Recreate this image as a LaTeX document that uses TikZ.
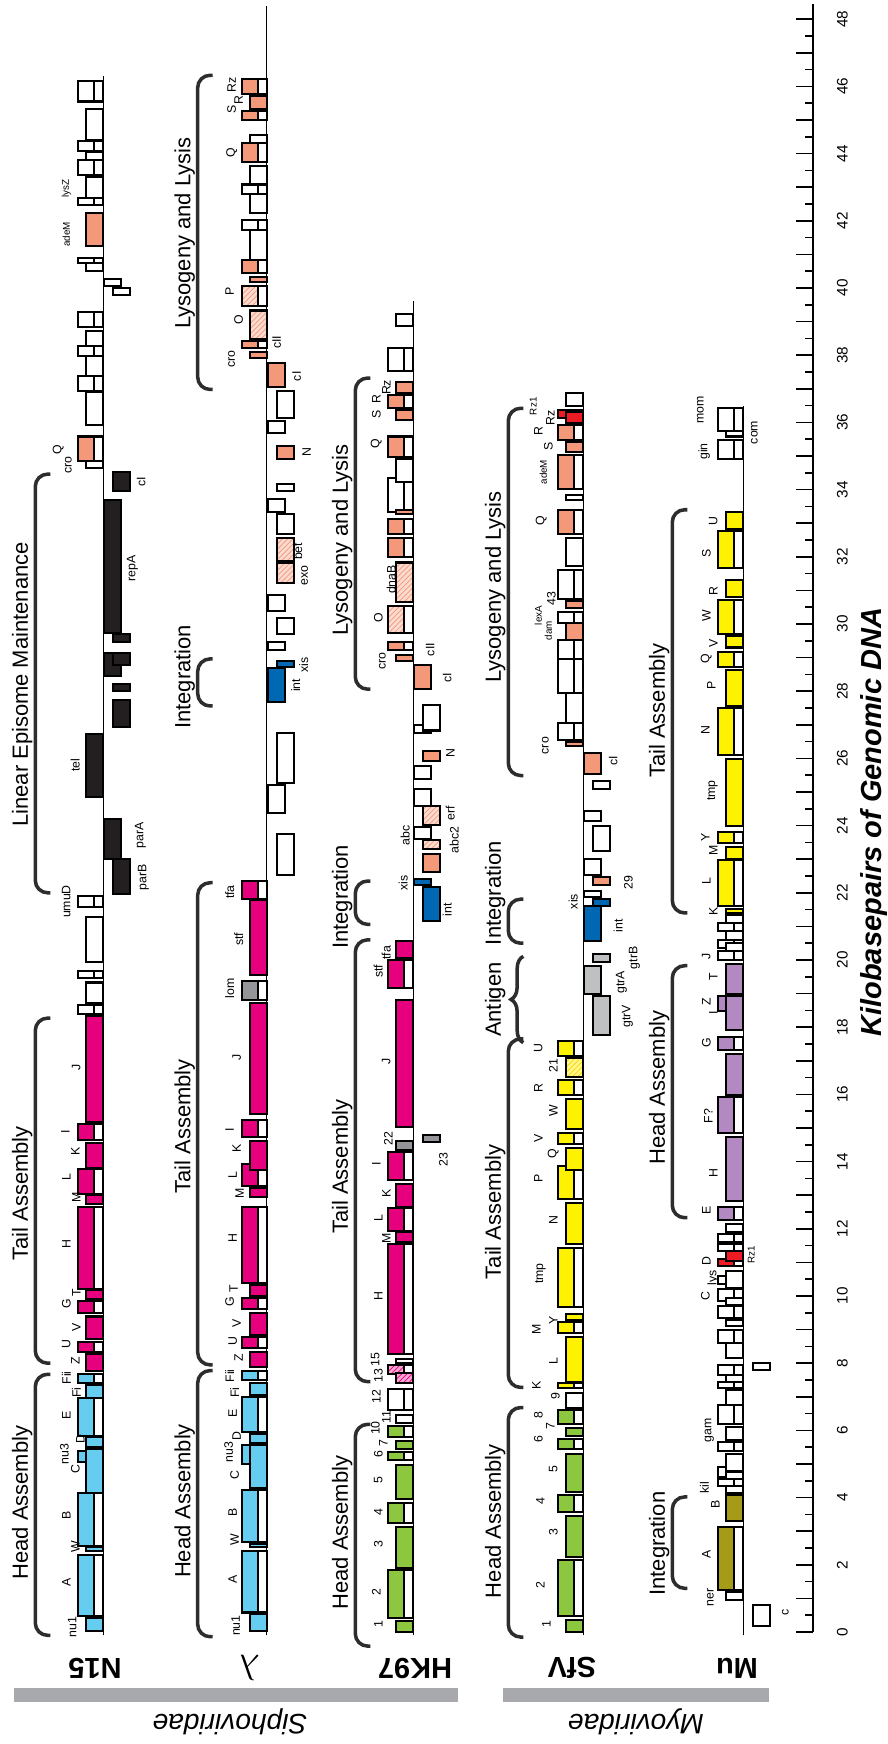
\documentclass[tikz,border=0pt]{standalone}
\usepackage{fontspec}
\setmainfont{Liberation Sans}
\usetikzlibrary{patterns,decorations.pathreplacing}

\definecolor{headblue}{RGB}{102,204,240}
\definecolor{tailpink}{RGB}{230,0,126}
\definecolor{headgreen}{RGB}{141,198,63}
\definecolor{tailyellow}{RGB}{255,242,0}
\definecolor{headpurple}{RGB}{178,137,192}
\definecolor{intolive}{RGB}{166,155,25}
\definecolor{lyso}{RGB}{244,152,122}
\definecolor{episome}{RGB}{35,31,32}
\definecolor{intblue}{RGB}{0,103,178}
\definecolor{tailgray}{RGB}{147,149,152}
\definecolor{antgray}{RGB}{190,192,194}
\definecolor{lysred}{RGB}{237,28,36}
\definecolor{famgray}{RGB}{167,169,172}
\definecolor{brkgray}{RGB}{45,45,45}

\tikzset{
  gene/.style={draw=black, line width=1.15pt},
  track/.style={line width=0.7pt},
  brk/.style={draw=brkgray, line width=2pt, rounded corners=7pt},
  glab/.style={rotate=90, inner sep=0pt, font=\fontsize{7}{8}\selectfont},
  small/.style={font=\fontsize{5.6}{6}\selectfont},
  grplab/.style={rotate=90, inner sep=0pt, font=\fontsize{12.5}{14}\selectfont},
  trklab/.style={rotate=180, inner sep=0pt, font=\fontsize{16.5}{18}\selectfont\bfseries},
  famlab/.style={rotate=180, inner sep=0pt, font=\fontsize{16}{18}\selectfont\itshape},
  ticklab/.style={rotate=90, inner sep=0pt, font=\fontsize{8.7}{10}\selectfont},
  axlab/.style={rotate=90, inner sep=0pt, font=\fontsize{16.5}{18}\selectfont\bfseries\itshape},
  hb/.style={fill=headblue}, tp/.style={fill=tailpink}, hg/.style={fill=headgreen},
  ty/.style={fill=tailyellow}, hp/.style={fill=headpurple}, io/.style={fill=intolive},
  ly/.style={fill=lyso}, ep/.style={fill=episome}, ib/.style={fill=intblue},
  gy/.style={fill=tailgray}, ag/.style={fill=antgray}, rd/.style={fill=lysred},
  wh/.style={fill=white},
  hat/.style={preaction={fill=lyso!35}, pattern=north east lines, pattern color=lyso},
  hatp/.style={preaction={fill=tailpink!35}, pattern=north east lines, pattern color=tailpink},
  haty/.style={preaction={fill=tailyellow!45}, pattern=north east lines, pattern color=tailyellow!70!orange}
}

% genes: start kb, end kb, fill style (lanes a,b left of the line, c,d right of it)
\newcommand{\gnA}[3]{\draw[gene] (-9,#1) rectangle (0,#2); \draw[gene,#3] (-25,#1) rectangle (-9,#2);}
\newcommand{\gnB}[3]{\draw[gene,#3] (-17,#1) rectangle (0,#2);}
\newcommand{\gnC}[3]{\draw[gene,#3] (1,#1) rectangle (18,#2);}
\newcommand{\gnD}[3]{\draw[gene,#3] (10,#1) rectangle (27,#2);}
\newcommand{\gnL}[4][]{\node[glab,#1] (\trk-#4) at (#2,#3) {#4};}
% bracket: name, dx, from kb, to kb, text kb, text
\newcommand{\grp}[6]{\draw[brk] ({#2+15},#3) -- (#2,#3) -- (#2,#4) -- ({#2+15},#4);
  \node[grplab] (\trk-#1) at ({#2-13},#5) {#6};}

\begin{document}
\begin{tikzpicture}[x=0.2mm, y=0.2mm]
\useasboundingbox (0,0) rectangle (887,1744);

% N15
\begin{scope}[shift={(103.3,112)}, yscale=33.6]
\def\trk{n15}
\draw[track] (0,-0.1) -- (0,46.3);
\gnA{0.47}{2.30}{hb} \gnA{2.57}{4.13}{hb} \gnA{5.07}{5.40}{hb} \gnA{5.84}{6.95}{hb}
\gnA{7.40}{7.67}{hb} \gnA{8.34}{8.64}{tp} \gnA{9.50}{9.84}{tp} \gnA{10.22}{12.66}{tp}
\gnA{13.05}{13.77}{tp} \gnA{14.63}{15.13}{tp} \gnA{18.38}{18.66}{wh} \gnA{19.46}{19.66}{wh}
\gnA{21.57}{21.90}{wh} \gnA{34.85}{35.58}{ly} \gnA{36.92}{37.37}{wh} \gnA{37.99}{38.27}{wh}
\gnA{38.83}{39.28}{wh} \gnA{40.73}{40.90}{wh} \gnA{42.46}{42.69}{wh} \gnA{43.36}{43.81}{wh}
\gnA{44.09}{44.37}{wh} \gnA{45.55}{46.16}{wh}
\gnB{0.02}{0.43}{hb} \gnB{2.40}{2.52}{hb} \gnB{4.13}{5.46}{hb} \gnB{5.51}{5.79}{hb}
\gnB{6.95}{7.34}{hb} \gnB{7.78}{8.28}{tp} \gnB{8.73}{9.39}{tp} \gnB{9.92}{10.17}{tp}
\gnB{12.74}{13.00}{tp} \gnB{13.80}{14.55}{tp} \gnB{15.19}{18.32}{tp} \gnB{18.71}{19.33}{wh}
\gnB{19.95}{21.29}{wh} \gnB{24.84}{26.72}{ep} \gnB{34.63}{34.85}{wh} \gnB{35.92}{36.90}{wh}
\gnB{37.37}{37.99}{wh} \gnB{38.27}{38.72}{wh} \gnB{40.50}{40.73}{wh} \gnB{41.24}{42.24}{ly}
\gnB{42.69}{43.31}{wh} \gnB{43.81}{44.04}{wh} \gnB{44.40}{45.32}{wh}
\gnD{21.96}{23.02}{ep} \gnC{23.02}{24.20}{ep} \gnD{26.94}{27.73}{ep} \gnD{28.00}{28.20}{ep}
\gnC{28.45}{29.13}{ep} \gnD{28.79}{29.13}{ep} \gnD{29.46}{29.69}{ep} \gnC{29.74}{33.70}{ep}
\gnD{33.96}{34.52}{ep} \gnD{39.78}{40.00}{wh} \gnC{40.06}{40.28}{wh}
\gnL{-31}{0.15}{nu1} \gnL{-37}{1.47}{A} \gnL{-28}{2.55}{W} \gnL{-37}{3.46}{B}
\gnL{-28}{4.85}{C} \gnL{-39}{5.29}{nu3} \gnL{-23}{5.73}{D} \gnL{-37}{6.45}{E}
\gnL{-27}{7.12}{Fi} \gnL{-37}{7.56}{Fii} \gnL{-28}{8.06}{Z} \gnL{-37}{8.56}{U}
\gnL{-27}{9.06}{V} \gnL{-37}{9.78}{G} \gnL{-27}{10.11}{T} \gnL{-37}{11.55}{H}
\gnL{-27}{12.94}{M} \gnL{-37}{13.55}{L} \gnL{-28}{14.29}{K} \gnL{-38}{14.9}{I}
\gnL{-27}{16.81}{J} \gnL{-37}{21.74}{umuD} \gnL{-28}{25.8}{tel} \gnL{37}{23.7}{parA}
\gnL{40}{22.46}{parB} \gnL{29}{31.66}{repA} \gnL{38}{34.24}{cI} \gnL{-35}{34.74}{cro}
\gnL{-45}{35.2}{Q} \gnL[small]{-37}{41.6}{adeM} \gnL[small]{-37}{42.97}{lysZ}
\grp{head}{-68}{-0.1}{7.67}{3.85}{Head Assembly}
\grp{tail}{-68}{8.0}{18.27}{13.05}{Tail Assembly}
\grp{lem}{-68}{22.0}{34.46}{28.2}{Linear Episome Maintenance}
\end{scope}

% lambda
\begin{scope}[shift={(266.7,112)}, yscale=33.6]
\def\trk{lam}
\draw[track] (0,-0.1) -- (0,48.4);
\gnA{0.58}{2.41}{hb} \gnA{2.68}{4.24}{hb} \gnA{5.01}{5.57}{hb} \gnA{5.95}{7.00}{hb}
\gnA{7.50}{7.78}{hb} \gnA{8.45}{8.78}{tp} \gnA{9.61}{9.95}{tp} \gnA{10.39}{12.66}{tp}
\gnA{13.27}{13.94}{tp} \gnA{14.74}{15.24}{tp} \gnA{18.82}{19.38}{gy} \gnA{21.81}{22.35}{tp}
\gnA{38.21}{38.43}{ly} \gnA{39.45}{40.06}{hat} \gnA{40.45}{40.84}{ly} \gnA{41.74}{42.02}{wh}
\gnA{42.80}{43.08}{wh} \gnA{43.75}{44.31}{ly} \gnA{44.99}{45.27}{ly} \gnA{45.77}{46.22}{ly}
\gnB{0.02}{0.54}{hb} \gnB{2.52}{2.63}{hb} \gnB{4.29}{5.57}{hb} \gnB{5.62}{5.90}{hb}
\gnB{7.06}{7.40}{hb} \gnB{7.90}{8.34}{tp} \gnB{8.84}{9.50}{tp} \gnB{10.00}{10.34}{tp}
\gnB{12.94}{13.22}{tp} \gnB{13.75}{14.60}{tp} \gnB{15.41}{18.71}{tp} \gnB{19.55}{21.79}{tp}
\gnB{37.93}{38.10}{ly} \gnB{38.49}{39.33}{hat} \gnB{40.17}{40.34}{ly} \gnB{40.84}{41.74}{wh}
\gnB{42.24}{42.80}{wh} \gnB{43.08}{43.64}{wh} \gnB{44.31}{44.54}{wh} \gnB{45.32}{45.71}{ly}
\gnD{22.52}{23.75}{wh} \gnC{24.37}{25.21}{wh} \gnD{25.26}{26.77}{wh} \gnC{27.67}{28.68}{ib}
\gnD{28.71}{28.90}{ib} \gnC{29.24}{29.46}{wh} \gnD{29.69}{30.19}{wh} \gnC{30.40}{30.86}{wh}
\gnD{31.21}{31.83}{hat} \gnD{31.88}{32.55}{hat} \gnD{32.67}{33.28}{wh} \gnC{33.34}{33.73}{wh}
\gnD{33.96}{34.18}{wh} \gnD{34.91}{35.30}{ly} \gnC{35.69}{36.03}{wh} \gnD{36.14}{36.92}{wh}
\gnC{37.04}{37.77}{ly}
\gnL{-31}{0.19}{nu1} \gnL{-34}{1.58}{A} \gnL{-32}{2.74}{W} \gnL{-34}{3.57}{B}
\gnL{-32}{4.68}{C} \gnL{-38}{5.35}{nu3} \gnL{-30}{5.84}{D} \gnL{-34}{6.51}{E}
\gnL{-32}{7.12}{Fi} \gnL{-37}{7.62}{Fii} \gnL{-28}{8.17}{Z} \gnL{-34}{8.67}{U}
\gnL{-30}{9.17}{V} \gnL{-37}{9.83}{G} \gnL{-33}{10.22}{T} \gnL{-34}{11.72}{H}
\gnL{-27}{13.05}{M} \gnL{-34}{13.6}{L} \gnL{-30}{14.4}{K} \gnL{-37}{14.96}{I}
\gnL{-30}{17.09}{J} \gnL{-37}{19.16}{lom} \gnL{-28}{20.62}{stf} \gnL{-37}{22.02}{tfa}
\gnL{29}{28.17}{int} \gnL{37}{28.79}{xis} \gnL{38}{31.44}{exo} \gnL{31}{32.16}{bet}
\gnL{40}{35.13}{N} \gnL{30}{37.37}{cI} \gnL{10}{38.38}{cII} \gnL{-35}{37.88}{cro}
\gnL{-28}{39.05}{O} \gnL{-37}{39.89}{P} \gnL{-35}{44.03}{Q} \gnL{-35}{45.32}{S}
\gnL{-28}{45.6}{R} \gnL{-35}{46.05}{Rz}
\grp{head}{-69}{-0.14}{7.78}{3.9}{Head Assembly}
\grp{tail}{-69}{7.95}{22.3}{15.05}{Tail Assembly}
\grp{int}{-69}{27.56}{28.96}{28.43}{Integration}
\grp{lys}{-69}{36.98}{46.33}{41.63}{Lysogeny and Lysis}
\end{scope}

% HK97
\begin{scope}[shift={(413.3,112)}, yscale=33.6]
\def\trk{hk}
\draw[track] (0,-0.1) -- (0,39.6);
\gnA{0.43}{1.85}{hg} \gnA{3.24}{3.85}{hg} \gnA{5.12}{5.35}{hg} \gnA{5.79}{6.12}{hg}
\gnA{6.62}{7.23}{wh} \gnA{7.67}{7.95}{hatp} \gnA{8.28}{11.55}{tp} \gnA{11.94}{12.61}{tp}
\gnA{13.44}{14.29}{tp} \gnA{19.16}{20.00}{tp} \gnA{29.24}{29.46}{ly} \gnA{29.74}{30.53}{hat}
\gnA{31.99}{32.56}{ly} \gnA{32.67}{33.12}{ly} \gnA{33.34}{34.35}{wh} \gnA{34.96}{35.58}{ly}
\gnA{36.42}{36.81}{ly} \gnA{37.54}{38.21}{wh}
\gnB{0.00}{0.32}{hg} \gnB{1.91}{3.13}{hg} \gnB{3.96}{4.96}{hg} \gnB{5.46}{5.68}{hg}
\gnB{6.23}{6.45}{wh} \gnB{7.40}{7.70}{hatp} \gnB{8.00}{8.12}{wh} \gnB{11.60}{11.90}{tp}
\gnB{12.66}{13.33}{tp} \gnB{14.34}{14.62}{gy} \gnB{15.02}{18.82}{tp} \gnB{20.06}{20.56}{tp}
\gnB{28.90}{29.07}{ly} \gnB{30.64}{31.83}{hat} \gnB{33.28}{33.40}{ly} \gnB{34.24}{34.91}{wh}
\gnB{36.08}{36.36}{ly} \gnB{36.87}{37.20}{ly} \gnB{38.88}{39.22}{wh}
\gnD{14.57}{14.79}{gy} \gnD{21.17}{22.18}{ib} \gnC{22.24}{22.41}{ib} \gnD{22.63}{23.14}{ly}
\gnD{23.30}{23.58}{hat} \gnC{23.60}{23.95}{wh} \gnD{24.03}{24.59}{hat} \gnC{24.59}{25.10}{wh}
\gnC{25.38}{25.77}{wh} \gnD{25.93}{26.21}{ly} \gnC{26.77}{27.00}{wh} \gnD{26.83}{27.60}{wh}
\gnC{28.06}{28.79}{ly}
\gnL{-35}{0.25}{1} \gnL{-37}{1.19}{2} \gnL{-35}{2.63}{3} \gnL{-35}{3.57}{4}
\gnL{-35}{4.51}{5} \gnL{-35}{5.29}{6} \gnL{-30}{5.62}{7} \gnL{-38}{6.07}{10}
\gnL{-27}{6.4}{11} \gnL{-37}{7.01}{12} \gnL{-35}{7.62}{13} \gnL{-38}{8.12}{15}
\gnL{-35}{10.0}{H} \gnL{-27}{11.72}{M} \gnL{-35}{12.33}{L} \gnL{-27}{13.05}{K}
\gnL{-37}{13.94}{I} \gnL{-25}{14.68}{22} \gnL{30}{14.06}{23} \gnL{-27}{16.98}{J}
\gnL{-35}{19.66}{stf} \gnL{-27}{20.22}{tfa} \gnL{-10}{22.3}{xis} \gnL{34}{21.5}{int}
\gnL{-8}{23.7}{abc} \gnL{41}{23.58}{abc2} \gnL{37}{24.37}{erf} \gnL{37}{26.16}{N}
\gnL{34}{28.4}{cI} \gnL{17}{29.24}{cII} \gnL{-31}{28.9}{cro} \gnL{-35}{30.19}{O}
\gnL{-22}{31.32}{dnaB} \gnL{-37}{35.36}{Q} \gnL{-37}{36.25}{S} \gnL{-37}{36.7}{R}
\gnL{-27}{37.04}{Rz}
\grp{head}{-58}{-0.42}{6.18}{2.96}{Head Assembly}
\grp{tail}{-58}{7.45}{20.6}{13.85}{Tail Assembly}
\grp{int}{-58}{21.06}{22.35}{21.88}{Integration}
\grp{lys}{-58}{28.06}{37.32}{32.5}{Lysogeny and Lysis}
\end{scope}

% SfV
\begin{scope}[shift={(583.3,112)}, yscale=33.6]
\def\trk{sfv}
\draw[track] (0,-0.1) -- (0,36.9);
\gnA{0.47}{2.13}{hg} \gnA{3.57}{4.07}{hg} \gnA{5.46}{5.73}{hg} \gnA{6.18}{6.62}{hg}
\gnA{7.26}{7.40}{ty} \gnA{8.89}{9.23}{ty} \gnA{9.67}{11.44}{ty} \gnA{12.88}{13.88}{ty}
\gnA{14.51}{14.85}{ty} \gnA{15.97}{16.42}{ty} \gnA{17.14}{17.59}{ty} \gnA{26.55}{27.06}{wh}
\gnA{27.95}{28.96}{wh} \gnA{28.96}{29.52}{wh} \gnA{30.02}{30.36}{wh} \gnA{30.75}{31.60}{wh}
\gnA{32.67}{33.40}{ly} \gnA{34.01}{35.02}{ly} \gnA{35.47}{35.92}{ly} \gnA{36.14}{36.37}{rd}
\gnB{0.00}{0.36}{hg} \gnB{2.24}{3.46}{hg} \gnB{4.18}{5.29}{hg} \gnB{5.84}{6.07}{hg}
\gnB{6.68}{7.12}{wh} \gnB{7.45}{8.78}{ty} \gnB{9.28}{9.45}{ty} \gnB{11.55}{12.77}{ty}
\gnB{13.75}{14.40}{ty} \gnB{14.96}{15.86}{ty} \gnB{16.53}{17.09}{haty} \gnB{26.36}{26.50}{ly}
\gnB{27.06}{27.95}{wh} \gnB{29.52}{30.02}{ly} \gnB{30.47}{30.69}{ly} \gnB{31.72}{32.56}{wh}
\gnB{33.68}{33.84}{wh} \gnB{35.13}{35.41}{ly} \gnB{35.97}{36.31}{rd} \gnB{36.48}{36.87}{wh}
\gnD{17.76}{18.94}{ag} \gnC{18.99}{19.83}{ag} \gnD{19.94}{20.17}{ag} \gnC{20.56}{21.62}{ib}
\gnD{21.62}{21.81}{ib} \gnC{21.88}{22.05}{wh} \gnD{22.24}{22.46}{ly} \gnC{22.52}{23.02}{wh}
\gnD{23.25}{23.98}{wh} \gnC{24.14}{24.42}{wh} \gnD{25.10}{25.32}{wh} \gnC{25.54}{26.16}{ly}
\gnL{-37}{0.25}{1} \gnL{-43}{1.41}{2} \gnL{-30}{2.96}{3} \gnL{-43}{3.9}{4}
\gnL{-30}{4.85}{5} \gnL{-45}{5.73}{6} \gnL{-33}{6.12}{7} \gnL{-45}{6.45}{8}
\gnL{-28}{7.01}{9} \gnL{-47}{7.34}{K} \gnL{-30}{8.06}{L} \gnL{-47}{9.0}{M}
\gnL{-30}{9.28}{Y} \gnL{-43}{10.67}{tmp} \gnL{-30}{12.27}{N} \gnL{-45}{13.49}{P}
\gnL{-30}{14.23}{Q} \gnL{-45}{14.68}{V} \gnL{-30}{15.52}{W} \gnL{-45}{16.19}{R}
\gnL{-30}{16.86}{21} \gnL{-45}{17.37}{U} \gnL{44}{18.32}{gtrV} \gnL{38}{19.33}{gtrA}
\gnL{51}{20.06}{gtrB} \gnL{35}{21.01}{int} \gnL{-10}{21.74}{xis} \gnL{45}{22.3}{29}
\gnL{30}{25.93}{cI} \gnL{-38}{26.38}{cro} \gnL[small]{-35}{29.8}{dam} \gnL[small]{-45}{30.25}{lexA}
\gnL{-32}{30.75}{43} \gnL{-42}{33.06}{Q} \gnL[small]{-40}{34.52}{adeM} \gnL{-35}{35.3}{S}
\gnL{-45}{35.75}{R} \gnL{-33}{36.14}{Rz} \gnL[small]{-50}{36.48}{Rz1}
\grp{head}{-75}{-0.15}{6.68}{3.3}{Head Assembly}
\grp{tail}{-75}{7.28}{17.65}{12.5}{Tail Assembly}
\draw[draw=brkgray, line width=2pt, decorate, decoration={brace, amplitude=7pt}] (-60,17.54) -- (-60,20.11);
\node[grplab] (sfv-ant) at (-88,18.82) {Antigen};
\grp{int}{-75}{20.5}{21.81}{21.99}{Integration}
\grp{lys}{-75}{25.49}{36.42}{31.1}{Lysogeny and Lysis}
\end{scope}

% Mu
\begin{scope}[shift={(743.3,112)}, yscale=33.6]
\def\trk{mu}
\draw[track] (0,-0.1) -- (0,36.5);
\gnA{1.24}{3.13}{io} \gnA{4.35}{4.55}{wh} \gnA{4.62}{4.90}{wh} \gnA{5.40}{5.65}{wh}
\gnA{6.20}{6.75}{wh} \gnA{7.25}{7.45}{wh} \gnA{7.65}{7.95}{wh} \gnA{8.60}{9.00}{wh}
\gnA{9.35}{9.70}{wh} \gnA{9.85}{10.20}{wh} \gnA{10.35}{10.60}{wh} \gnA{10.89}{11.11}{rd}
\gnA{11.35}{11.55}{wh} \gnA{11.60}{11.85}{wh} \gnA{12.27}{12.66}{hp} \gnA{14.85}{15.91}{hp}
\gnA{17.32}{17.70}{hp} \gnA{18.49}{18.94}{hp} \gnA{20.00}{20.28}{wh} \gnA{20.35}{20.60}{wh}
\gnA{20.85}{21.10}{wh} \gnA{21.62}{22.97}{ty} \gnA{23.47}{23.81}{ty} \gnA{26.10}{27.50}{ty}
\gnA{28.73}{29.18}{ty} \gnA{29.69}{30.70}{ty} \gnA{31.66}{32.78}{ty} \gnA{34.91}{35.47}{wh}
\gnA{35.75}{36.42}{wh}
\gnB{0.96}{1.19}{wh} \gnB{3.29}{4.07}{io} \gnB{4.13}{4.35}{wh} \gnB{4.55}{4.75}{wh}
\gnB{4.80}{5.30}{wh} \gnB{5.70}{6.10}{wh} \gnB{6.75}{7.20}{wh} \gnB{7.45}{7.65}{wh}
\gnB{8.15}{8.60}{wh} \gnB{9.10}{9.30}{wh} \gnB{9.72}{9.95}{wh} \gnB{10.25}{10.75}{wh}
\gnB{11.05}{11.33}{rd} \gnB{11.90}{12.15}{wh} \gnB{12.83}{14.74}{hp} \gnB{15.97}{17.20}{hp}
\gnB{17.93}{18.94}{hp} \gnB{18.99}{19.89}{hp} \gnB{20.28}{20.50}{wh} \gnB{20.60}{20.85}{wh}
\gnB{21.10}{21.35}{wh} \gnB{21.40}{21.51}{ty} \gnB{23.02}{23.36}{ty} \gnB{23.98}{25.99}{ty}
\gnB{27.56}{28.62}{ty} \gnB{29.30}{29.63}{ty} \gnB{30.81}{31.31}{ty} \gnB{32.84}{33.34}{ty}
\gnB{35.58}{35.75}{wh}
\gnD{0.19}{0.80}{wh} \gnD{7.79}{8.00}{wh}
\gnL{42}{0.58}{c} \gnL{-33}{1.02}{ner} \gnL{-37}{2.3}{A} \gnL{-28}{3.8}{B}
\gnL{-39}{4.29}{kil} \gnL{-34}{6.01}{gam} \gnL{-38}{10.0}{C} \gnL{-30}{10.55}{lys}
\gnL{-37}{11.05}{D} \gnL[small]{8}{11.22}{Rz1} \gnL{-37}{12.55}{E} \gnL{-30}{13.66}{H}
\gnL{-35}{15.35}{F?} \gnL{-37}{17.54}{G} \gnL{-30}{18.43}{I} \gnL{-37}{18.77}{Z}
\gnL{-30}{19.5}{T} \gnL{-37}{20.11}{J} \gnL{-30}{21.46}{K} \gnL{-37}{22.35}{L}
\gnL{-30}{23.25}{M} \gnL{-38}{23.64}{Y} \gnL{-31}{25.04}{tmp} \gnL{-38}{26.83}{N}
\gnL{-32}{28.17}{P} \gnL{-37}{28.96}{Q} \gnL{-30}{29.41}{V} \gnL{-37}{30.25}{W}
\gnL{-30}{30.97}{R} \gnL{-37}{32.11}{S} \gnL{-30}{33.06}{U} \gnL{-39}{35.13}{gin}
\gnL{-43}{36.36}{mom} \gnL{11}{35.7}{com}
\grp{int}{-71}{1.3}{4.02}{2.63}{Integration}
\grp{head}{-71}{12.33}{19.83}{16.2}{Head Assembly}
\grp{tail}{-71}{21.4}{33.4}{27.42}{Tail Assembly}
\end{scope}

% kilobase axis
\begin{scope}[shift={(813.3,112)}, yscale=33.6]
\draw[line width=1.3pt] (0,0) -- (0,48.45);
\foreach \k in {0,...,48} \draw[line width=1pt] (-17,\k) -- (0,\k);
\foreach \k in {0,...,47} \draw[line width=1pt] (-8,\k+0.5) -- (0,\k+0.5);
\foreach \k in {0,2,...,48} \node[ticklab] (tick\k) at (29,\k) {\k};
\node[axlab] (axtitle) at (61,24.1) {Kilobasepairs of Genomic DNA};
\end{scope}

% phage names and families
\node[trklab] (n15) at (95,76) {N15};
\node[trklab, font=\fontsize{20}{22}\selectfont] (lam) at (250,76) {$\lambda$};
\node[trklab] (hk97) at (415,76) {HK97};
\node[trklab] (sfv) at (572,76) {SfV};
\node[trklab] (mu) at (737,76) {Mu};
\fill[famgray] (14,42) rectangle (458,56);
\fill[famgray] (503,42) rectangle (769,56);
\node[famlab] (sipho) at (230,22) {Siphoviridae};
\node[famlab] (myo) at (636,22) {Myoviridae};
\end{tikzpicture}
\end{document}
